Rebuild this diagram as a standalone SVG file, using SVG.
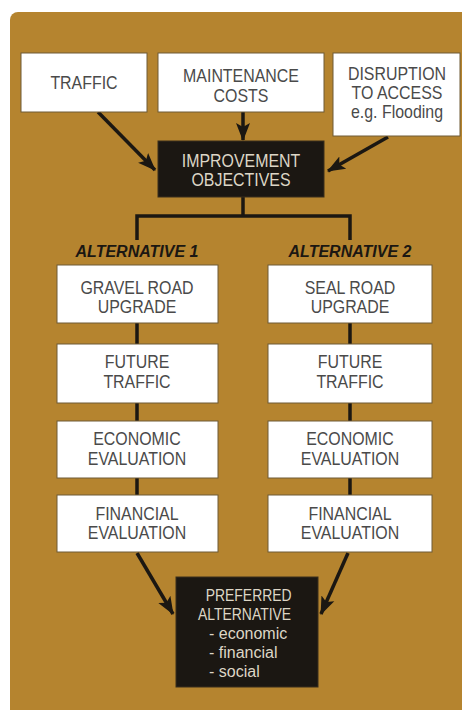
<svg xmlns="http://www.w3.org/2000/svg" width="462" height="710" viewBox="0 0 462 710">
<style>
.bg{fill:#b5842f}
.wbox{fill:#ffffff;stroke:#6e5a36;stroke-width:1}
.kbox{fill:#1b1712;stroke:#3a2e1c;stroke-width:1}
.t{font-family:"Liberation Sans",Arial,sans-serif;font-size:17.5px;fill:#4a4a4a;text-anchor:middle}
.tk{font-family:"Liberation Sans",Arial,sans-serif;font-size:17.5px;fill:#ddd6c6;text-anchor:middle}
.tkl{font-family:"Liberation Sans",Arial,sans-serif;font-size:16px;fill:#ddd6c6}
.alt{font-family:"Liberation Sans",Arial,sans-serif;font-size:16px;font-weight:bold;font-style:italic;fill:#1b1712;text-anchor:middle}
.ln{stroke:#1b1712;stroke-width:3.5;fill:none}
</style>
<defs>
<marker id="ah" markerUnits="userSpaceOnUse" markerWidth="18" markerHeight="16" viewBox="0 0 18 16" refX="17" refY="8" orient="auto">
<path d="M0,1 L18,8 L0,15 L4,8 Z" fill="#1b1712"/>
</marker>
</defs>
<rect class="bg" x="10" y="12" width="470" height="720" rx="8"/>

<g id="connectors">
<line class="ln" x1="98" y1="112" x2="155" y2="170" marker-end="url(#ah)"/>
<line class="ln" x1="243" y1="112" x2="243" y2="140" marker-end="url(#ah)"/>
<line class="ln" x1="388" y1="137" x2="328" y2="171" marker-end="url(#ah)"/>
<polyline class="ln" points="243,197 243,216"/>
<polyline class="ln" points="137,240 137,216 350,216 350,240"/>
<line class="ln" x1="137" y1="323" x2="137" y2="344"/>
<line class="ln" x1="137" y1="403" x2="137" y2="421"/>
<line class="ln" x1="137" y1="478" x2="137" y2="495"/>
<line class="ln" x1="350" y1="323" x2="350" y2="344"/>
<line class="ln" x1="350" y1="403" x2="350" y2="421"/>
<line class="ln" x1="350" y1="478" x2="350" y2="495"/>
<line class="ln" x1="137" y1="553" x2="173" y2="614" marker-end="url(#ah)"/>
<line class="ln" x1="348" y1="553" x2="321" y2="614" marker-end="url(#ah)"/>
</g>

<g id="traffic">
<rect class="wbox" x="21" y="53" width="126" height="59"/>
<g transform="translate(84,0) scale(0.91,1)"><text class="t" x="0" y="89">TRAFFIC</text></g>
</g>
<g id="maintenance">
<rect class="wbox" x="158" y="53" width="166" height="59"/>
<g transform="translate(241,0) scale(0.91,1)">
<text class="t" x="0" y="82">MAINTENANCE</text>
<text class="t" x="0" y="102">COSTS</text>
</g>
</g>
<g id="disruption">
<rect class="wbox" x="333" y="53" width="127" height="83"/>
<g transform="translate(397,0) scale(0.91,1)">
<text class="t" x="0" y="80">DISRUPTION</text>
<text class="t" x="0" y="99">TO ACCESS</text>
<text class="t" x="0" y="118">e.g. Flooding</text>
</g>
</g>
<g id="objectives">
<rect class="kbox" x="158" y="141" width="166" height="56"/>
<g transform="translate(241,0) scale(0.91,1)">
<text class="tk" x="0" y="167">IMPROVEMENT</text>
<text class="tk" x="0" y="186">OBJECTIVES</text>
</g>
</g>

<g id="alt1-label"><text class="alt" x="137" y="257">ALTERNATIVE 1</text></g>
<g id="alt2-label"><text class="alt" x="350" y="257">ALTERNATIVE 2</text></g>

<g id="gravel">
<rect class="wbox" x="57" y="265" width="161" height="58"/>
<g transform="translate(137,0) scale(0.91,1)">
<text class="t" x="0" y="294">GRAVEL ROAD</text>
<text class="t" x="0" y="313">UPGRADE</text>
</g>
</g>
<g id="future1">
<rect class="wbox" x="57" y="344" width="161" height="59"/>
<g transform="translate(137,0) scale(0.91,1)">
<text class="t" x="0" y="368">FUTURE</text>
<text class="t" x="0" y="388">TRAFFIC</text>
</g>
</g>
<g id="economic1">
<rect class="wbox" x="57" y="421" width="161" height="57"/>
<g transform="translate(137,0) scale(0.91,1)">
<text class="t" x="0" y="445">ECONOMIC</text>
<text class="t" x="0" y="465">EVALUATION</text>
</g>
</g>
<g id="financial1">
<rect class="wbox" x="57" y="495" width="161" height="57"/>
<g transform="translate(137,0) scale(0.91,1)">
<text class="t" x="0" y="520">FINANCIAL</text>
<text class="t" x="0" y="539">EVALUATION</text>
</g>
</g>

<g id="seal">
<rect class="wbox" x="268" y="265" width="164" height="58"/>
<g transform="translate(350,0) scale(0.91,1)">
<text class="t" x="0" y="294">SEAL ROAD</text>
<text class="t" x="0" y="313">UPGRADE</text>
</g>
</g>
<g id="future2">
<rect class="wbox" x="268" y="344" width="164" height="59"/>
<g transform="translate(350,0) scale(0.91,1)">
<text class="t" x="0" y="368">FUTURE</text>
<text class="t" x="0" y="388">TRAFFIC</text>
</g>
</g>
<g id="economic2">
<rect class="wbox" x="268" y="421" width="164" height="57"/>
<g transform="translate(350,0) scale(0.91,1)">
<text class="t" x="0" y="445">ECONOMIC</text>
<text class="t" x="0" y="465">EVALUATION</text>
</g>
</g>
<g id="financial2">
<rect class="wbox" x="268" y="495" width="164" height="57"/>
<g transform="translate(350,0) scale(0.91,1)">
<text class="t" x="0" y="520">FINANCIAL</text>
<text class="t" x="0" y="539">EVALUATION</text>
</g>
</g>

<g id="preferred">
<rect class="kbox" x="176" y="577" width="142" height="110"/>
<g transform="translate(247,0) scale(0.82,1)">
<text class="tk" x="2" y="601" style="font-size:17px">PREFERRED</text>
<text class="tk" x="-3" y="620" style="font-size:17px">ALTERNATIVE</text>
</g>
<text class="tkl" x="209" y="639">- economic</text>
<text class="tkl" x="209" y="658">- financial</text>
<text class="tkl" x="209" y="677">- social</text>
</g>
</svg>
